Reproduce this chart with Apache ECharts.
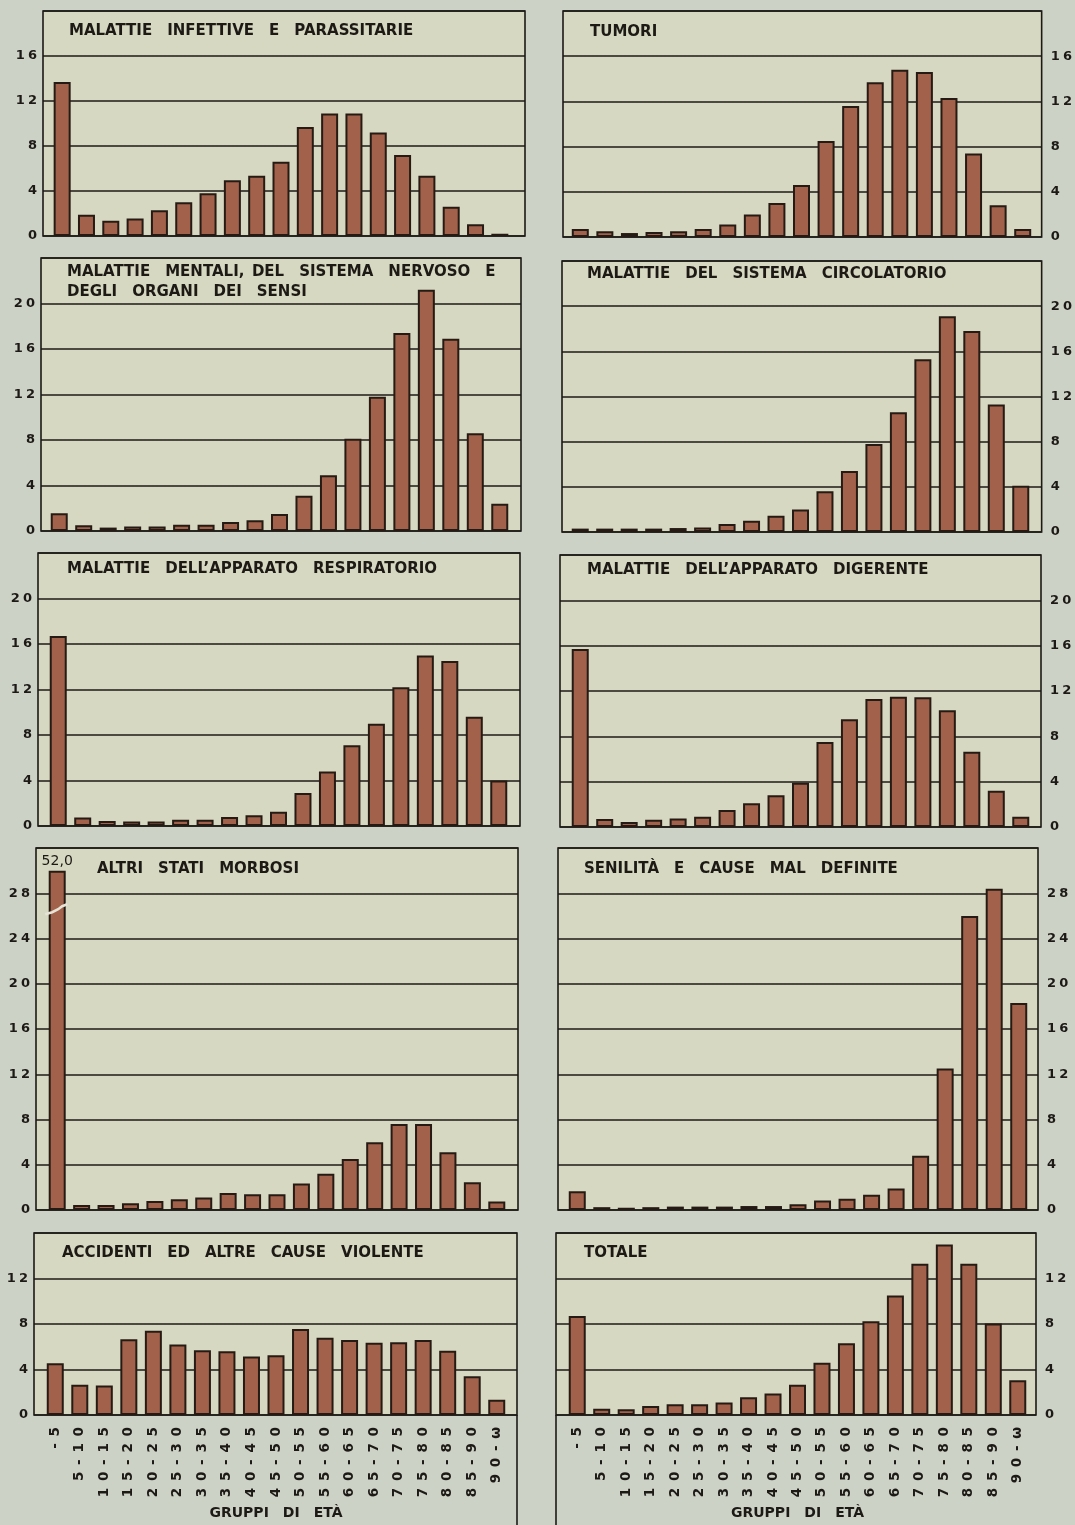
<!DOCTYPE html>
<html><head><meta charset="utf-8">
<script src="https://cdn.jsdelivr.net/npm/echarts@6/dist/echarts.min.js"></script>
<style>html,body{margin:0;padding:0;background:#cdd2c6;} #c{width:1075px;height:1525px;}</style>
</head><body><div id="c"></div>
<script>
// ---------- DATA ----------
const categories = ['-5','5-10','10-15','15-20','20-25','25-30','30-35','35-40','40-45','45-50','50-55','55-60','60-65','65-70','70-75','75-80','80-85','85-90','90-ω'];
const infettive    = [13.7,1.9,1.35,1.55,2.3,3.0,3.8,4.95,5.35,6.6,9.7,10.9,10.9,9.2,7.2,5.35,2.6,1.05,0.2];
const tumori       = [0.7,0.5,0.35,0.45,0.5,0.7,1.1,2.0,3.0,4.6,8.5,11.6,13.7,14.8,14.6,12.3,7.4,2.8,0.7];
const mentali      = [1.55,0.5,0.3,0.4,0.4,0.55,0.55,0.8,0.95,1.5,3.1,4.9,8.1,11.8,17.4,21.2,16.9,8.6,2.4];
const circolatorio = [0.3,0.3,0.3,0.3,0.35,0.4,0.7,1.0,1.45,2.0,3.6,5.4,7.8,10.6,15.3,19.1,17.8,11.3,4.1];
const respiratorio = [16.7,0.75,0.45,0.4,0.4,0.55,0.55,0.8,0.95,1.25,2.9,4.8,7.1,9.0,12.2,15.0,14.5,9.6,4.0];
const digerente    = [15.7,0.7,0.45,0.65,0.75,0.9,1.5,2.1,2.8,3.9,7.5,9.5,11.3,11.5,11.45,10.3,6.65,3.2,0.9];
const altri        = [52.0,0.45,0.45,0.6,0.8,0.95,1.1,1.5,1.4,1.4,2.35,3.2,4.5,6.0,7.6,7.6,5.1,2.45,0.75];
const senilita     = [1.65,0.25,0.2,0.25,0.3,0.3,0.3,0.35,0.35,0.5,0.85,1.0,1.35,1.9,4.8,12.5,26.0,28.4,18.3];
const accidenti    = [4.55,2.65,2.6,6.65,7.4,6.2,5.7,5.6,5.15,5.25,7.55,6.8,6.6,6.35,6.4,6.6,5.65,3.4,1.35];
const totale       = [8.7,0.55,0.5,0.8,0.95,0.95,1.1,1.55,1.9,2.65,4.6,6.3,8.25,10.5,13.3,15.0,13.3,8.05,3.05];

const titles = [
  'MALATTIE INFETTIVE E PARASSITARIE', 'TUMORI',
  'MALATTIE MENTALI, DEL SISTEMA NERVOSO E\nDEGLI ORGANI DEI SENSI', 'MALATTIE DEL SISTEMA CIRCOLATORIO',
  'MALATTIE DELL\u2019APPARATO RESPIRATORIO', 'MALATTIE DELL\u2019APPARATO DIGERENTE',
  'ALTRI STATI MORBOSI', 'SENILITÀ E CAUSE MAL DEFINITE',
  'ACCIDENTI ED ALTRE CAUSE VIOLENTE', 'TOTALE'
];
const seriesData = [infettive, tumori, mentali, circolatorio, respiratorio, digerente, altri, senilita, accidenti, totale];
const yMaxes = [20, 20, 24, 24, 24, 24, 32, 32, 16, 16];
const yStep = 4;
const xTitle = 'GRUPPI DI ETÀ';
const brokenBarCap = 30;      // drawn height of the interrupted bar (52,0)
const breakMarkValue = 26.5;  // where the interruption sign is drawn

// ---------- LAYOUT ----------
const layout = [
  {box:[43,11,525,236],   band:[50,512],  tx:69,  ty:31,  side:'left'},
  {box:[563,11,1043,237], band:[568,1035],tx:590, ty:32,  side:'right'},
  {box:[41,258,521,531],  band:[47,512],  tx:67,  ty:282, side:'left'},
  {box:[562,261,1042,532],band:[568,1033],tx:587, ty:274, side:'right'},
  {box:[38,553,520,826],  band:[46,511],  tx:67,  ty:569, side:'left'},
  {box:[560,555,1041,827],band:[568,1033],tx:587, ty:570, side:'right'},
  {box:[36,848,518,1210], band:[45,509],  tx:97,  ty:869, side:'left'},
  {box:[558,848,1038,1210],band:[565,1031],tx:584,ty:869, side:'right'},
  {box:[34,1233,517,1415],band:[43,509],  tx:62,  ty:1253,side:'left'},
  {box:[556,1233,1036,1415],band:[565,1030],tx:584,ty:1253,side:'right'}
];

const INK = '#1d1a16';
const FONT = '"DejaVu Sans", sans-serif';
const spaced = (s, sep) => s.split('').join(sep);

const grid = [], xAxis = [], yAxis = [], series = [], graphic = [];

seriesData.forEach((data, i) => {
  const L = layout[i];
  const [x0, y0, x1, y1] = L.box;
  const max = yMaxes[i];
  const bottom = i >= 8;
  // frame grid
  grid.push({left:x0, top:y0, width:x1-x0, height:y1-y0, show:true,
    borderColor:INK, borderWidth:1.6, backgroundColor:'#d7d8c1'});
  // bar grid
  grid.push({left:L.band[0], top:y0, width:L.band[1]-L.band[0], height:y1-y0});
  xAxis.push({gridIndex:2*i, type:'value', min:0, max:1, show:false});
  yAxis.push({gridIndex:2*i, type:'value', min:0, max:max, interval:yStep, position:L.side,
    axisLine:{show:false}, axisTick:{show:false},
    splitLine:{show:true, lineStyle:{color:INK, width:1.6}},
    axisLabel:{showMaxLabel:false, margin: L.side==='left' ? 6 : 9,
      color:INK, fontFamily:FONT, fontWeight:'bold', fontSize:13,
      formatter: v => spaced(String(v), '\u2005')}});
  xAxis.push({gridIndex:2*i+1, type:'category', data:categories,
    axisLine:{show:false}, axisTick:{show:false}, splitLine:{show:false},
    axisLabel:{show:bottom, rotate:90, interval:0, margin:12,
      color:INK, fontFamily:FONT, fontWeight:'bold', fontSize:13.5,
      formatter: c => spaced(c, '\u2002')}});
  yAxis.push({gridIndex:2*i+1, type:'value', min:0, max:max, show:false});

  const capped = data.some(v => v > max);
  series.push({type:'bar', xAxisIndex:2*i+1, yAxisIndex:2*i+1, barWidth:17, silent:true,
    itemStyle:{color:'#a2614a', borderColor:'#261b14', borderWidth:2},
    data: data.map(v => v > max ? {
      value: brokenBarCap,
      label:{show:true, position:'top', distance:2, color:INK, fontFamily:FONT, fontSize:14,
        formatter: () => v.toFixed(1).replace('.', ',')}
    } : v)
  });
  if (capped) {
    series.push({type:'custom', xAxisIndex:2*i+1, yAxisIndex:2*i+1, silent:true, z:5,
      data:[[data.findIndex(v => v > max), breakMarkValue]],
      renderItem:(params, api) => {
        const p = api.coord([api.value(0), api.value(1)]);
        return {type:'polyline', shape:{points:[[p[0]-12,p[1]+4],[p[0]-5,p[1]+2],[p[0]+1,p[1]-1],[p[0]+5,p[1]-4],[p[0]+10,p[1]-6]]},
          style:{stroke:'#e6e4d6', lineWidth:2.5, fill:null}};
      }});
  }
  graphic.push({type:'text', x:L.tx, y:L.ty, z:10, silent:true,
    style:{text: titles[i].replace(/ /g, '\u2003').replace(',\u2003', ',\u2002'), font:'bold 15px ' + FONT, fill:INK,
      verticalAlign:'middle', lineHeight:20}});
  if (bottom) {
    const ex = L.side === 'left' ? x1 : x0;
    graphic.push({type:'line', z:10, silent:true, shape:{x1:ex, y1:y1, x2:ex, y2:1525},
      style:{stroke:INK, lineWidth:1.6}});
    graphic.push({type:'text', x:(L.band[0]+L.band[1])/2, y:1513, z:10, silent:true,
      style:{text: xTitle.replace(/ /g, '\u2003'), font:'bold 14px ' + FONT, fill:INK,
        align:'center', verticalAlign:'middle'}});
  }
});

const chart = echarts.init(document.getElementById('c'), null, {renderer:'canvas'});
chart.setOption({animation:false, backgroundColor:'#cdd2c6', grid, xAxis, yAxis, series, graphic});
</script></body></html>
